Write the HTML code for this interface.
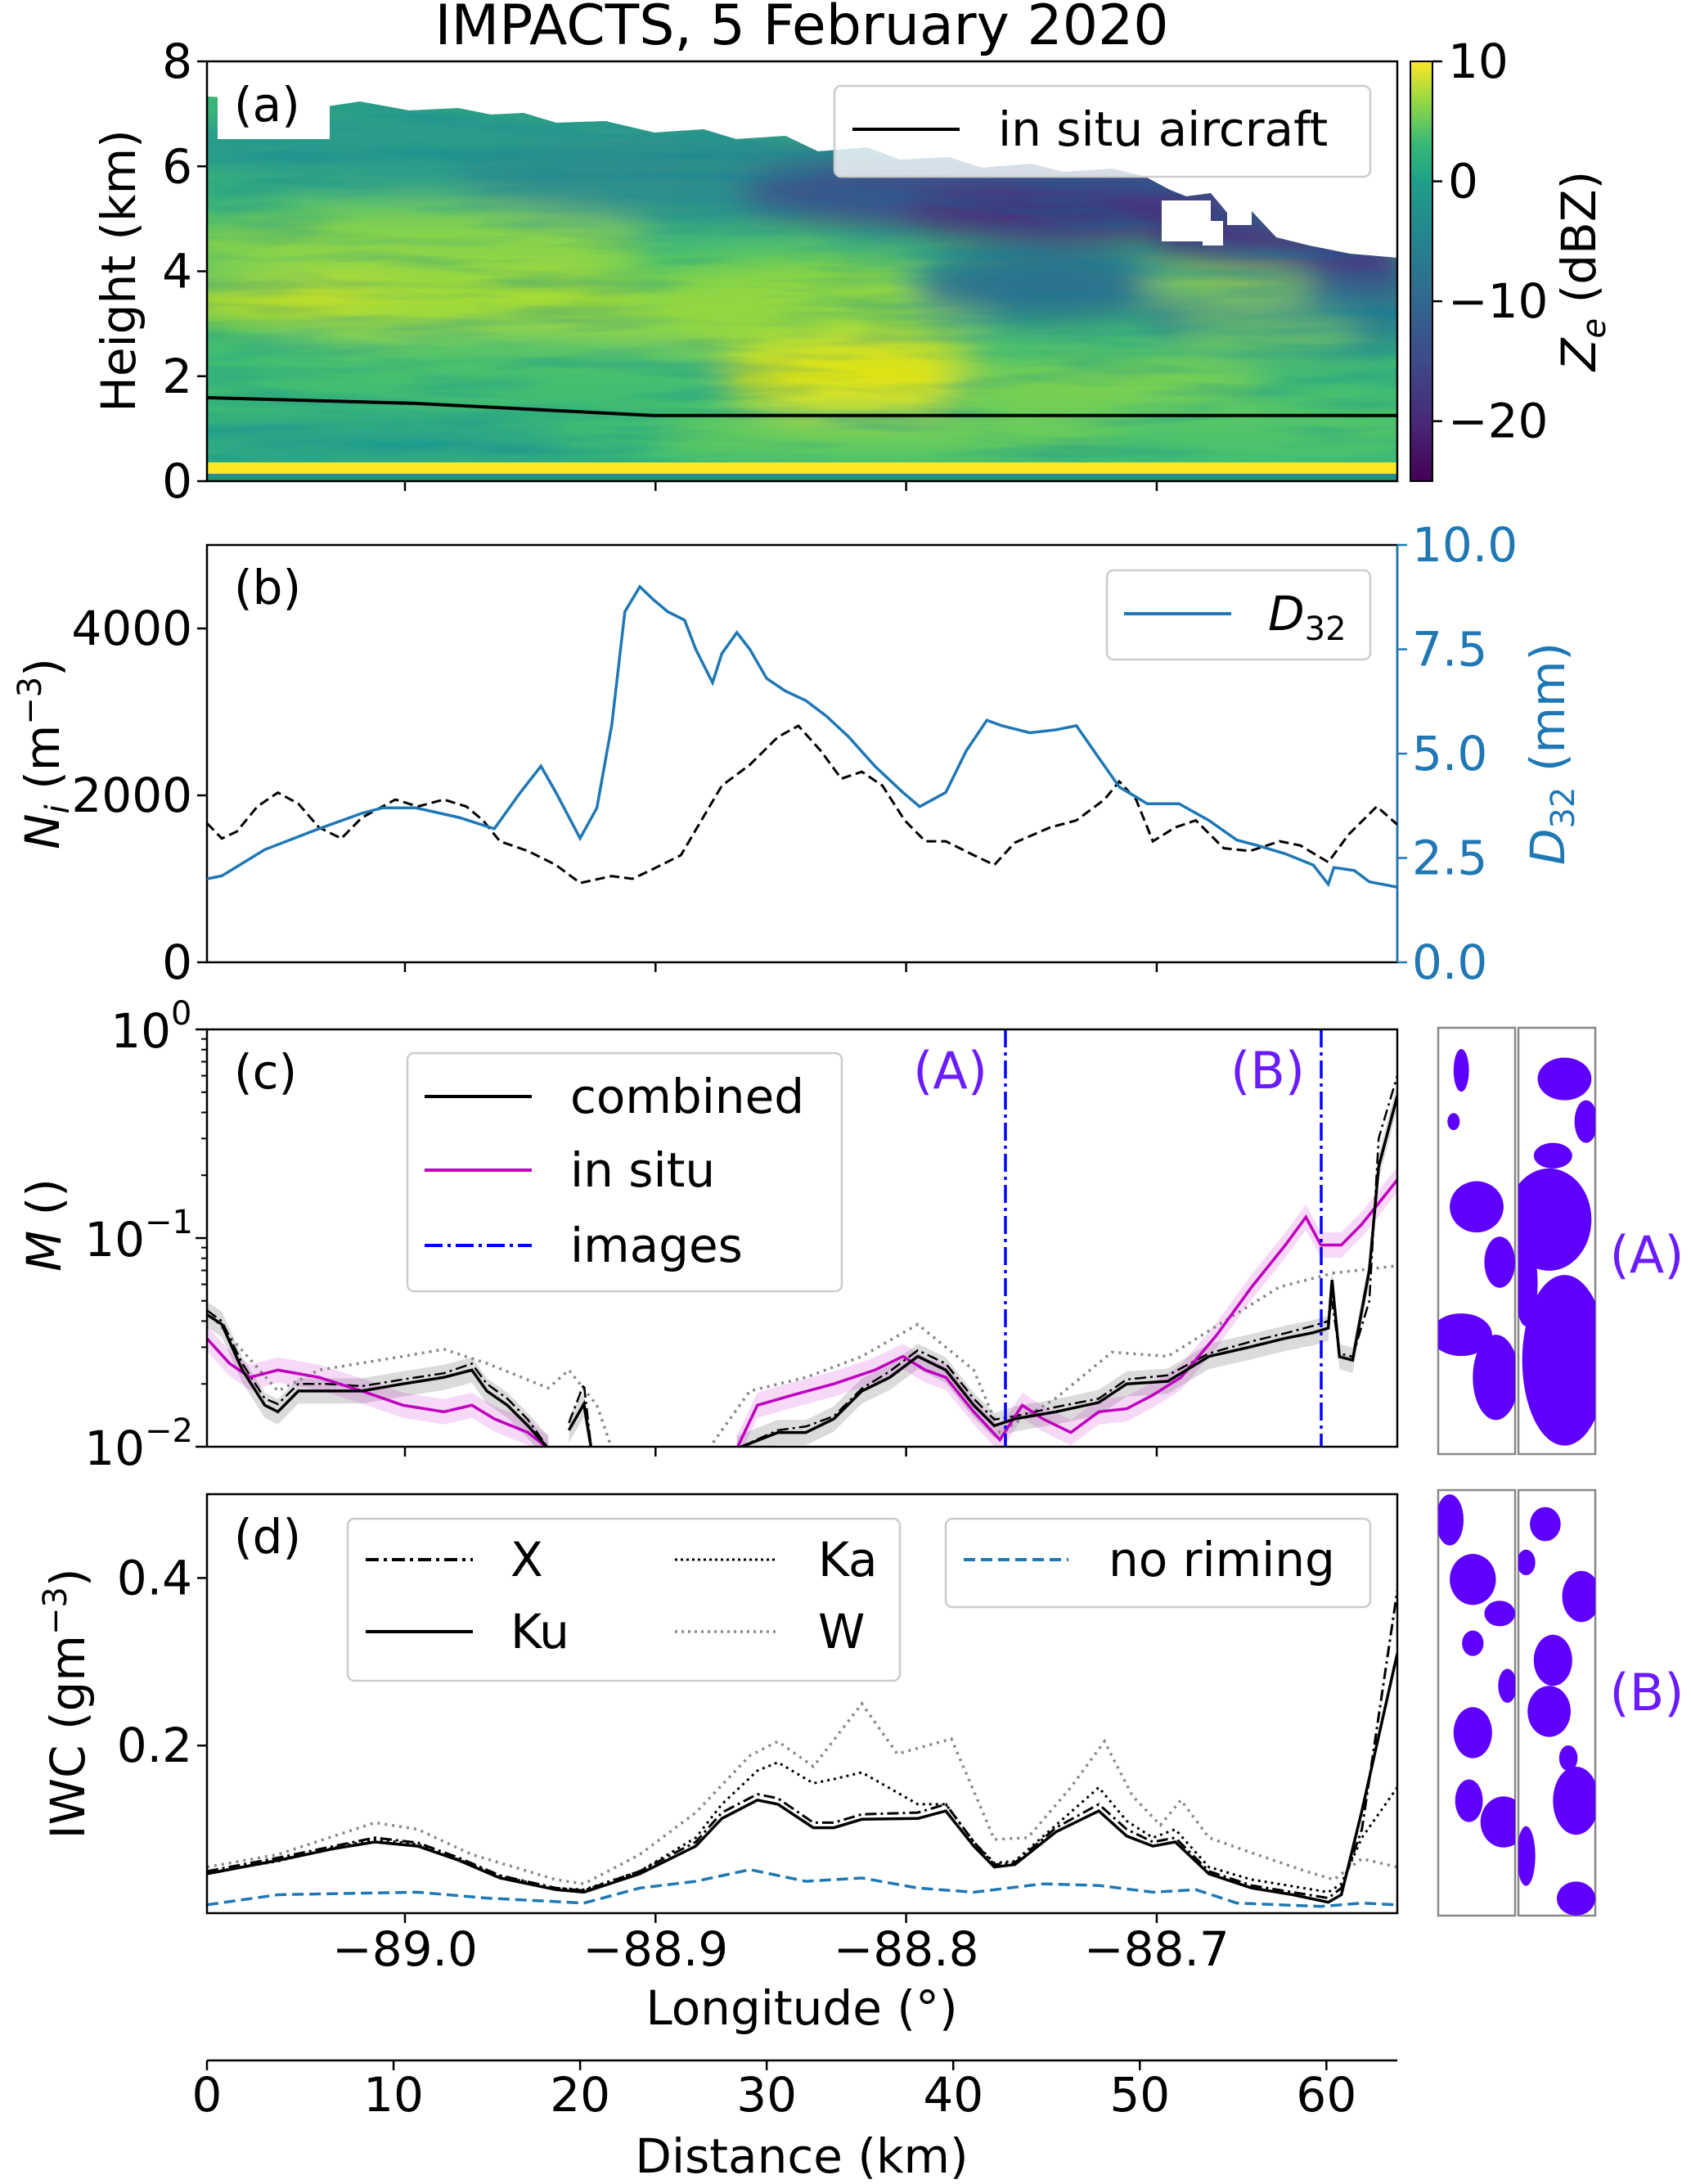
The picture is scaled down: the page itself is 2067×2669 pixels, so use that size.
<!DOCTYPE html>
<html><head><meta charset="utf-8"><style>
html,body{margin:0;padding:0;background:#fff;}
svg{display:block;font-family:"DejaVu Sans","Liberation Sans",sans-serif;}
</style></head><body>
<svg id="fig" xmlns="http://www.w3.org/2000/svg" width="2067" height="2669" viewBox="0 0 2067 2669">
<defs>
<filter id="blur" x="-20%" y="-20%" width="140%" height="140%"><feGaussianBlur stdDeviation="20"/></filter>
<filter id="tex"><feTurbulence type="fractalNoise" baseFrequency="0.005 0.05" numOctaves="3" seed="4"/><feColorMatrix type="matrix" values="0 0 0 0 0  0 0 0 0 0.2  0 0 0 0 0.35  0 0 0 1.3 -0.55"/></filter>
<clipPath id="cloud"><polygon points="253,118 300,120 330,112 360,122 400,130 440,124 500,135 560,132 600,140 640,138 680,150 740,148 800,162 860,158 900,170 960,166 1000,185 1060,180 1100,195 1160,192 1200,205 1260,200 1300,210 1360,206 1400,216 1430,232 1450,240 1480,236 1500,260 1530,258 1560,290 1600,300 1650,310 1708,315 1708,588 253,588"/></clipPath>
<linearGradient id="viridis" x1="0" y1="1" x2="0" y2="0">
<stop offset="0" stop-color="#440154"/><stop offset="0.14" stop-color="#482878"/><stop offset="0.28" stop-color="#3e4989"/><stop offset="0.43" stop-color="#31688e"/><stop offset="0.57" stop-color="#26828e"/><stop offset="0.71" stop-color="#1f9e89"/><stop offset="0.8" stop-color="#35b779"/><stop offset="0.9" stop-color="#8fd744"/><stop offset="1" stop-color="#fde725"/>
</linearGradient>
<clipPath id="clipB"><rect x="253" y="666" width="1455" height="510"/></clipPath>
<clipPath id="clipC"><rect x="253" y="1258" width="1455" height="510"/></clipPath>
<clipPath id="clipD"><rect x="253" y="1826" width="1455" height="512"/></clipPath>
</defs>

<text x="980" y="54" font-size="68" text-anchor="middle">IMPACTS, 5 February 2020</text>

<!-- Panel a heatmap -->
<g clip-path="url(#cloud)">
<rect x="253" y="75" width="1455" height="513" fill="#3fbc73"/>
<g filter="url(#blur)">
<ellipse cx="600" cy="180" rx="420" ry="60" fill="#2a9c8a"/>
<ellipse cx="900" cy="220" rx="350" ry="55" fill="#2f8f8c"/>
<ellipse cx="1250" cy="235" rx="350" ry="55" fill="#3b538b"/>
<ellipse cx="1300" cy="262" rx="200" ry="35" fill="#472d7b"/>
<ellipse cx="1560" cy="300" rx="150" ry="30" fill="#46307e"/>
<ellipse cx="1620" cy="335" rx="120" ry="30" fill="#433e85"/>
<ellipse cx="500" cy="300" rx="300" ry="45" fill="#8ad448"/>
<ellipse cx="450" cy="370" rx="260" ry="26" fill="#d0e11c"/>
<ellipse cx="700" cy="390" rx="300" ry="55" fill="#a5db36"/>
<ellipse cx="1000" cy="370" rx="250" ry="55" fill="#90d743"/>
<ellipse cx="1280" cy="350" rx="170" ry="45" fill="#2c728e"/>
<ellipse cx="1580" cy="390" rx="180" ry="45" fill="#287c8e"/>
<ellipse cx="1500" cy="350" rx="110" ry="18" fill="#95d840"/>
<ellipse cx="1550" cy="410" rx="120" ry="15" fill="#7ad151"/>
<ellipse cx="600" cy="440" rx="280" ry="35" fill="#4ac16d"/>
<ellipse cx="1050" cy="460" rx="170" ry="45" fill="#dde318"/>
<ellipse cx="1350" cy="470" rx="200" ry="35" fill="#7ad151"/>
<ellipse cx="450" cy="540" rx="250" ry="30" fill="#25a18a"/>
<ellipse cx="1100" cy="530" rx="300" ry="30" fill="#6ccd5a"/>
<ellipse cx="1550" cy="520" rx="200" ry="35" fill="#52c569"/>
</g>
<rect x="253" y="75" width="1455" height="513" filter="url(#tex)" opacity="0.55"/>
<rect x="253" y="565" width="1455" height="14" fill="#fde725"/>
<rect x="253" y="579" width="1455" height="9" fill="#21918c"/>
</g>
<rect x="266" y="75" width="137" height="95" fill="#fff"/>
<g fill="#fff">
<rect x="1420" y="245" width="60" height="50"/><rect x="1500" y="240" width="30" height="35"/><rect x="1540" y="232" width="40" height="30"/><rect x="1470" y="270" width="25" height="30"/>
</g>
<polyline id="aircraft" fill="none" stroke="#000" stroke-width="4"/>
<rect x="253" y="75" width="1455" height="513" fill="none" stroke="#000" stroke-width="2.5"/>
<g>
<rect x="1020" y="105" width="655" height="111" rx="8" fill="#fff" fill-opacity="0.8" stroke="#ccc" stroke-width="2.5"/>
<line x1="1042" y1="158" x2="1173" y2="158" stroke="#000" stroke-width="4"/>
<text x="1220" y="178" font-size="58">in situ aircraft</text>
</g>
<text x="286" y="148" font-size="58">(a)</text>
<g>
<rect x="1724" y="75" width="27" height="513" fill="url(#viridis)" stroke="#000" stroke-width="2"/>
</g>
<text transform="translate(1950,331) rotate(-90)" font-size="58" text-anchor="middle"><tspan font-style="italic">Z</tspan><tspan font-size="40" dy="12" font-style="italic">e</tspan><tspan dy="-12"> (dBZ)</tspan></text>
<text transform="translate(165,331) rotate(-90)" font-size="58" text-anchor="middle">Height (km)</text>

<!-- Panel b -->
<rect x="253" y="666" width="1455" height="510" fill="none" stroke="#000" stroke-width="2.5"/>
<line x1="1708" y1="666" x2="1708" y2="1176" stroke="#1f77b4" stroke-width="2.5"/>
<g clip-path="url(#clipB)">
<polyline id="niLine" fill="none" stroke="#000" stroke-width="3" stroke-dasharray="12,6"/>
<polyline id="d32Line" fill="none" stroke="#1f77b4" stroke-width="3.5"/>
</g>
<g>
<rect x="1353" y="697" width="322" height="109" rx="8" fill="#fff" fill-opacity="0.8" stroke="#ccc" stroke-width="2.5"/>
<line x1="1374" y1="750" x2="1505" y2="750" stroke="#1f77b4" stroke-width="4"/>
<text x="1550" y="770" font-size="58" font-style="italic">D<tspan font-size="40" dy="12" font-style="normal">32</tspan></text>
</g>
<text x="286" y="738" font-size="58">(b)</text>
<text transform="translate(72,921) rotate(-90)" font-size="58" text-anchor="middle"><tspan font-style="italic">N</tspan><tspan font-size="40" dy="12" font-style="italic">i</tspan><tspan dy="-12"> (m</tspan><tspan font-size="40" dy="-22">−3</tspan><tspan dy="22">)</tspan></text>
<text transform="translate(1912,921) rotate(-90)" font-size="58" text-anchor="middle" fill="#1f77b4"><tspan font-style="italic">D</tspan><tspan font-size="40" dy="12">32</tspan><tspan dy="-12"> (mm)</tspan></text>

<!-- Panel c -->
<g clip-path="url(#clipC)">
<path id="combBand" fill="#888" fill-opacity="0.3"/>
<path id="insituBand" fill="#c000c0" fill-opacity="0.15"/>
<path id="wMLine" fill="none" stroke="#888" stroke-width="3.5" stroke-dasharray="3,6"/>
<path id="xMLine" fill="none" stroke="#000" stroke-width="2.5" stroke-dasharray="14,5,3,5"/>
<path id="insituLine" fill="none" stroke="#c000c0" stroke-width="3.5"/>
<path id="combLine" fill="none" stroke="#000" stroke-width="3.5"/>
</g>
<line x1="1229" y1="1258" x2="1229" y2="1768" stroke="#0000ff" stroke-width="3.5" stroke-dasharray="22,6,4,6"/>
<line x1="1615" y1="1258" x2="1615" y2="1768" stroke="#0000ff" stroke-width="3.5" stroke-dasharray="22,6,4,6"/>
<text x="1207" y="1330" font-size="62" fill="#6a1bff" text-anchor="end">(A)</text>
<text x="1595" y="1330" font-size="62" fill="#6a1bff" text-anchor="end">(B)</text>
<rect x="253" y="1258" width="1455" height="510" fill="none" stroke="#000" stroke-width="2.5"/>
<g>
<rect x="498" y="1287" width="531" height="291" rx="8" fill="#fff" fill-opacity="0.8" stroke="#ccc" stroke-width="2.5"/>
<line x1="519" y1="1340" x2="650" y2="1340" stroke="#000" stroke-width="4"/>
<text x="697" y="1360" font-size="58">combined</text>
<line x1="519" y1="1430" x2="650" y2="1430" stroke="#c000c0" stroke-width="4"/>
<text x="697" y="1450" font-size="58">in situ</text>
<line x1="519" y1="1522" x2="650" y2="1522" stroke="#0000ff" stroke-width="4" stroke-dasharray="22,6,4,6"/>
<text x="697" y="1542" font-size="58">images</text>
</g>
<text x="286" y="1330" font-size="58">(c)</text>
<text transform="translate(74,1497) rotate(-90)" font-size="58" text-anchor="middle"><tspan font-style="italic">M</tspan> ()</text>

<!-- Panel d -->
<g clip-path="url(#clipD)">
<polyline id="wLine" fill="none" stroke="#888" stroke-width="3.5" stroke-dasharray="3,6"/>
<polyline id="kaLine" fill="none" stroke="#000" stroke-width="3" stroke-dasharray="3,5"/>
<polyline id="xLine" fill="none" stroke="#000" stroke-width="3" stroke-dasharray="14,5,3,5"/>
<polyline id="kuLine" fill="none" stroke="#000" stroke-width="3.5"/>
<polyline id="nrLine" fill="none" stroke="#1f77b4" stroke-width="3.5" stroke-dasharray="14,7"/>
</g>
<rect x="253" y="1826" width="1455" height="512" fill="none" stroke="#000" stroke-width="2.5"/>
<g>
<rect x="425" y="1856" width="675" height="198" rx="8" fill="#fff" fill-opacity="0.8" stroke="#ccc" stroke-width="2.5"/>
<line x1="447" y1="1906" x2="578" y2="1906" stroke="#000" stroke-width="4" stroke-dasharray="16,6,4,6"/>
<text x="624" y="1926" font-size="58">X</text>
<line x1="447" y1="1994" x2="578" y2="1994" stroke="#000" stroke-width="4"/>
<text x="624" y="2014" font-size="58">Ku</text>
<line x1="825" y1="1906" x2="949" y2="1906" stroke="#000" stroke-width="3" stroke-dasharray="3,4"/>
<text x="1000" y="1926" font-size="58">Ka</text>
<line x1="825" y1="1994" x2="949" y2="1994" stroke="#888" stroke-width="3.5" stroke-dasharray="3,5"/>
<text x="1000" y="2014" font-size="58">W</text>
</g>
<g>
<rect x="1156" y="1856" width="519" height="108" rx="8" fill="#fff" fill-opacity="0.8" stroke="#ccc" stroke-width="2.5"/>
<line x1="1178" y1="1906" x2="1306" y2="1906" stroke="#1f77b4" stroke-width="4" stroke-dasharray="14,7"/>
<text x="1355" y="1926" font-size="58">no riming</text>
</g>
<text x="286" y="1898" font-size="58">(d)</text>
<text transform="translate(103,2082) rotate(-90)" font-size="58" text-anchor="middle">IWC (gm<tspan font-size="40" dy="-22">−3</tspan><tspan dy="22">)</tspan></text>
<text x="980" y="2474" font-size="58" text-anchor="middle">Longitude (°)</text>

<line x1="253" y1="2518" x2="1708" y2="2518" stroke="#000" stroke-width="2.5"/>
<text x="980" y="2655" font-size="58" text-anchor="middle">Distance (km)</text>

<!-- particle images -->
<g id="thumbs"></g>
<text x="2013" y="1555" font-size="62" fill="#6a1bff" text-anchor="middle">(A)</text>
<text x="2013" y="2090" font-size="62" fill="#6a1bff" text-anchor="middle">(B)</text>

<g id="axes"></g>
</svg>
<script>
// ---- data ----
const acKm = [0, 11.3, 23.9, 63.8];
const acHeight = [1.59, 1.48, 1.25, 1.25];

const bKm = [0,0.8,3.1,6.0,8.3,9.4,11.2,13.5,15.4,16.8,17.9,18.7,20.0,20.9,21.7,22.4,23.2,23.9,24.7,25.6,26.2,27.1,27.6,28.4,29.1,30.0,31.0,32.1,33.2,34.4,35.8,37.3,38.2,39.6,40.7,41.8,42.6,44.1,45.5,46.6,47.8,48.9,50.4,52.1,53.7,55.2,56.3,57.8,59.3,60.1,60.4,61.5,62.3,63.8];
const d32 = [2.0,2.07,2.7,3.2,3.57,3.7,3.7,3.47,3.2,4.07,4.7,4.07,2.97,3.7,5.7,8.4,9.0,8.7,8.4,8.2,7.5,6.7,7.4,7.9,7.5,6.8,6.5,6.27,5.9,5.4,4.7,4.07,3.73,4.07,5.07,5.8,5.67,5.5,5.57,5.67,4.9,4.2,3.8,3.8,3.4,2.93,2.8,2.6,2.33,1.87,2.27,2.2,1.93,1.8];
const niKm = [0,0.8,1.6,2.7,3.8,4.9,6.0,7.2,8.3,10.1,11.3,12.7,13.9,14.8,15.7,17.2,18.7,20.0,21.7,22.8,23.9,25.4,26.5,27.6,29.1,30.6,31.7,32.9,34.0,35.1,36.2,37.4,38.5,39.6,41.1,42.2,43.3,45.2,46.6,48.1,48.9,49.8,50.7,51.9,53.0,54.5,55.9,57.5,58.6,60.1,61.2,62.7,63.8];
const niVals = [1667,1483,1567,1867,2033,1900,1617,1483,1733,1950,1867,1950,1867,1700,1450,1333,1167,950,1033,1000,1117,1283,1700,2117,2367,2700,2833,2533,2200,2283,2117,1700,1450,1450,1283,1167,1433,1617,1700,1950,2167,1950,1450,1617,1700,1367,1333,1450,1400,1200,1533,1867,1650];

const combKm = [0,0.8,1.9,3.1,3.8,4.9,6.4,8.3,10.5,12.7,14.2,15.0,16.1,17.2,18.3,null,19.4,20.2,20.6,null,28.4,30.6,32.1,33.6,35.1,36.6,38.1,39.6,41.1,42.2,43.3,45.5,47.8,49.3,51.5,53.7,56.0,57.8,59.3,60.1,60.3,60.7,61.4,62.3,62.8,63.8];
const combM = [.043,.0386,.0233,.0158,.0147,.0185,.0185,.0185,.02,.0215,.0233,.0185,.0158,.0126,.0098,null,.012,.016,.0098,null,.0098,.0117,.0117,.0136,.0185,.0215,.0271,.0233,.0158,.0126,.0136,.0147,.0163,.02,.0206,.0271,.0302,.0331,.0352,.037,.063,.027,.026,.07,.22,.48];
const xM = [.045,.04,.025,.017,.016,.02,.02,.0195,.021,.0225,.025,.02,.017,.0135,.0098,null,.013,.02,.0098,null,.0098,.012,.0125,.014,.019,.023,.029,.025,.017,.0135,.014,.0155,.017,.021,.022,.028,.032,.035,.038,.04,.05,.028,.027,.05,.3,.6];
const insituKm = [0,1.2,2.3,3.8,6.0,8.3,10.5,12.7,14.2,15.4,17.2,18.3,null,28.4,29.5,31.4,33.6,35.8,37.3,38.5,39.6,41.1,42.5,43.7,44.8,46.3,47.8,49.3,50.7,52.2,54.1,56.0,57.8,58.9,59.7,60.8,61.9,63.8];
const insituM = [.033,.0251,.0215,.0233,.0215,.0185,.0158,.0147,.0158,.0136,.0117,.0098,null,.0098,.0158,.0177,.02,.0233,.0271,.0233,.0215,.0147,.0108,.0158,.0136,.0117,.0147,.0152,.0177,.0215,.0341,.0584,.0926,.126,.0926,.0926,.1166,.19];
const wMKm = [0,3.8,6.0,10.5,12.7,15.0,18.3,19.4,20.9,21.7,null,26.9,29.1,32.1,35.1,38.1,41.1,42.5,45.5,48.5,51.5,54.5,57.5,60.4,63.8];
const wM = [.045,.0185,.0233,.0271,.0293,.0251,.0191,.0233,.0158,.0098,null,.0098,.0185,.0215,.0271,.0386,.0233,.0117,.0171,.0284,.0271,.0398,.0584,.068,.0736];

const dKm = [0,3.8,6.8,9.0,11.3,13.5,15.7,18.7,20.2,23.2,26.2,27.6,29.5,30.6,32.5,33.6,35.1,38.1,39.6,41.1,42.2,43.3,45.5,47.8,49.3,50.7,51.9,53.7,56.0,58.2,60.1,60.8,61.9,63.8];
const iwcKu = [.047,.063,.077,.085,.08,.063,.042,.028,.025,.047,.08,.113,.135,.13,.102,.102,.112,.113,.122,.08,.055,.058,.097,.122,.092,.08,.085,.047,.03,.022,.013,.022,.122,.31];
const iwcX = [.05,.066,.08,.09,.084,.066,.045,.03,.027,.05,.085,.12,.142,.137,.108,.108,.118,.12,.13,.085,.058,.06,.102,.13,.1,.085,.09,.05,.033,.025,.018,.03,.1,.385];
const iwcKa = [.048,.062,.078,.088,.082,.064,.044,.03,.028,.05,.09,.13,.17,.18,.155,.16,.168,.13,.13,.085,.06,.062,.105,.15,.11,.09,.1,.055,.04,.032,.025,.035,.09,.15];
const wKm = [0,3.8,9.0,11.3,14.2,18.7,20.2,23.2,26.2,29.1,30.6,32.5,35.1,37.0,39.9,41.4,42.2,44.0,46.3,48.1,49.6,51.1,52.2,53.7,56.0,58.9,60.4,61.9,63.8];
const iwcW = [.055,.07,.108,.1,.07,.04,.035,.07,.12,.188,.205,.175,.25,.19,.208,.13,.088,.09,.15,.205,.14,.105,.135,.09,.072,.05,.04,.065,.055];
const nrKm = [0,3.8,11.3,15.0,20.2,23.2,26.2,29.1,32.1,35.1,38.1,41.1,44.8,47.8,50.7,53.0,55.2,59.7,61.9,63.8];
const iwcNR = [.01,.022,.025,.018,.012,.03,.038,.052,.038,.042,.03,.025,.035,.033,.025,.028,.012,.008,.012,.01];

const aTicks = [0,2,4,6,8];
const cbTicks = [10,0,-10,-20];
const niTicks = [0,2000,4000];
const d32Ticks = ["0.0","2.5","5.0","7.5","10.0"];
const iwcTicks = ["0.2","0.4"];
const lonTicks = ["−89.0","−88.9","−88.8","−88.7"];
const distTicks = [0,10,20,30,40,50,60];

// ---- scales ----
const X0=253, X1=1708, KMAX=63.8;
const xKm = k => X0 + k*(X1-X0)/KMAX;
const yA = h => 588 - h*(513/8);
const yNi = v => 1176 - v/5000*510;
const yD = v => 1176 - v/10*510;
const yM = v => 1768 - (Math.log10(v)+2)/2*510;
const yI = v => 2338 - v/0.5*512;
const xLon = l => X0 + (l+89.079)/0.475*(X1-X0);
const yCb = v => 75 + (10-v)*(513/35);

function pts(xs, ys, fy){ return xs.map((x,i)=>xKm(x).toFixed(1)+','+fy(ys[i]).toFixed(1)).join(' '); }
function pathSeg(xs, ys, fy){
  let d='', start=true;
  for(let i=0;i<xs.length;i++){
    if(xs[i]===null||ys[i]===null){start=true;continue;}
    d += (start?'M':'L')+xKm(xs[i]).toFixed(1)+','+fy(ys[i]).toFixed(1)+' ';
    start=false;
  }
  return d;
}
function bandSeg(xs, ys, fy, f){
  let d='', seg=[];
  const flush=()=>{ if(seg.length>1){
      d+='M'+seg.map(i=>xKm(xs[i]).toFixed(1)+','+fy(ys[i]*f).toFixed(1)).join(' L')+' L'+
        seg.slice().reverse().map(i=>xKm(xs[i]).toFixed(1)+','+fy(ys[i]/f).toFixed(1)).join(' L')+' Z ';
    } seg=[]; };
  for(let i=0;i<xs.length;i++){ if(xs[i]===null||ys[i]===null){flush();continue;} seg.push(i);} flush();
  return d;
}
document.getElementById('aircraft').setAttribute('points', pts(acKm, acHeight, yA));
document.getElementById('d32Line').setAttribute('points', pts(bKm, d32, yD));
document.getElementById('niLine').setAttribute('points', pts(niKm, niVals, yNi));
document.getElementById('combLine').setAttribute('d', pathSeg(combKm, combM, yM));
document.getElementById('xMLine').setAttribute('d', pathSeg(combKm, xM, yM));
document.getElementById('combBand').setAttribute('d', bandSeg(combKm, combM, yM, 1.15));
document.getElementById('insituLine').setAttribute('d', pathSeg(insituKm, insituM, yM));
document.getElementById('insituBand').setAttribute('d', bandSeg(insituKm, insituM, yM, 1.15));
document.getElementById('wMLine').setAttribute('d', pathSeg(wMKm, wM, yM));
document.getElementById('kuLine').setAttribute('points', pts(dKm, iwcKu, yI));
document.getElementById('xLine').setAttribute('points', pts(dKm, iwcX, yI));
document.getElementById('kaLine').setAttribute('points', pts(dKm, iwcKa, yI));
document.getElementById('wLine').setAttribute('points', pts(wKm, iwcW, yI));
document.getElementById('nrLine').setAttribute('points', pts(nrKm, iwcNR, yI));

// ---- axes ----
const NS='http://www.w3.org/2000/svg';
const axes=document.getElementById('axes');
function line(x1,y1,x2,y2,c,w){ const l=document.createElementNS(NS,'line');
  l.setAttribute('x1',x1);l.setAttribute('y1',y1);l.setAttribute('x2',x2);l.setAttribute('y2',y2);
  l.setAttribute('stroke',c||'#000');l.setAttribute('stroke-width',w||2.5);
  
  
  axes.appendChild(l); return l;}
function text(x,y,s,anchor,c,fs){ const t=document.createElementNS(NS,'text');
  t.setAttribute('x',x);t.setAttribute('y',y);t.setAttribute('font-size',fs||58);
  t.setAttribute('text-anchor',anchor||'middle'); if(c)t.setAttribute('fill',c);
  t.textContent=s;
  
  
  axes.appendChild(t); return t;}
aTicks.forEach(v=>{ const y=yA(v); line(X0-12,y,X0,y); text(X0-18,y+20,String(v),'end'); });
cbTicks.forEach(v=>{ const y=yCb(v); line(1751,y,1763,y); text(1770,y+20,(v<0?'−':'')+Math.abs(v),'start'); });
[588,1176,1768,2338].forEach(yb=>{ [-89.0,-88.9,-88.8,-88.7].forEach(l=>line(xLon(l),yb,xLon(l),yb+12)); });
lonTicks.forEach((s,i)=>{ text(xLon(-89.0+0.1*i),2402,s,'middle'); });
niTicks.forEach(v=>{ const y=yNi(v); line(X0-12,y,X0,y); text(X0-18,y+20,String(v),'end'); });
d32Ticks.forEach(s=>{ const y=yD(parseFloat(s)); line(X1,y,X1+12,y,'#1f77b4'); text(X1+18,y+20,s,'start','#1f77b4'); });
[-2,-1,0].forEach(e=>{ const y=yM(Math.pow(10,e)); line(X0-14,y,X0,y);
  const expW = e<0 ? 58 : 26;
  text(X0-18-expW,y+22,'10','end');
  text(X0-18-expW,y-6,(e<0?'−':'')+Math.abs(e),'start',null,40); });
for(let e=-2;e<0;e++){ for(let m=2;m<10;m++){ const y=yM(m*Math.pow(10,e)); line(X0-7,y,X0,y,'#000',2); } }
iwcTicks.forEach(s=>{ const y=yI(parseFloat(s)); line(X0-12,y,X0,y); text(X0-18,y+20,s,'end'); });
distTicks.forEach(v=>{ const x=xKm(v); line(x,2518,x,2530); text(x,2580,String(v),'middle'); });

// ---- particle thumbnails ----
const th=document.getElementById('thumbs');
const boxes=[[1758,1256,94,521],[1856,1256,94,521],[1758,1821,94,520],[1856,1821,94,520]];
const blobsA1=[[.3,.1,.1,.05],[.5,.42,.35,.06],[.8,.55,.2,.06],[.3,.72,.4,.05],[.75,.82,.3,.1],[.2,.22,.08,.02]];
const blobsA2=[[.6,.12,.35,.05],[.88,.22,.15,.05],[.45,.3,.25,.03],[.4,.45,.55,.12],[.6,.78,.55,.2],[.1,.6,.15,.1]];
const blobsB1=[[.15,.07,.18,.06],[.45,.21,.3,.06],[.8,.29,.2,.03],[.45,.36,.14,.03],[.9,.46,.12,.04],[.45,.57,.25,.06],[.4,.73,.18,.05],[.85,.78,.3,.06]];
const blobsB2=[[.35,.08,.2,.04],[.1,.17,.12,.03],[.82,.25,.25,.06],[.45,.4,.25,.06],[.4,.52,.28,.06],[.65,.63,.12,.03],[.75,.73,.3,.08],[.1,.86,.12,.07],[.75,.96,.25,.04]];
const allBlobs=[blobsA1,blobsA2,blobsB1,blobsB2];
boxes.forEach((b,i)=>{
  const r=document.createElementNS(NS,'rect');
  r.setAttribute('x',b[0]);r.setAttribute('y',b[1]);r.setAttribute('width',b[2]);r.setAttribute('height',b[3]);
  r.setAttribute('fill','#fff');r.setAttribute('stroke','#888');r.setAttribute('stroke-width','2.5');
  
  
  th.appendChild(r);
  const cp=document.createElementNS(NS,'clipPath'); cp.setAttribute('id','tc'+i);
  const cr=r.cloneNode(); cp.appendChild(cr); th.appendChild(cp);
  const g=document.createElementNS(NS,'g'); g.setAttribute('clip-path','url(#tc'+i+')');
  allBlobs[i].forEach(p=>{ const e=document.createElementNS(NS,'ellipse');
    e.setAttribute('cx',b[0]+p[0]*b[2]); e.setAttribute('cy',b[1]+p[1]*b[3]);
    e.setAttribute('rx',p[2]*b[2]); e.setAttribute('ry',p[3]*b[3]); e.setAttribute('fill','#5f00ff');
    
    
    g.appendChild(e); });
  th.appendChild(g);
});
</script>
</body></html>
